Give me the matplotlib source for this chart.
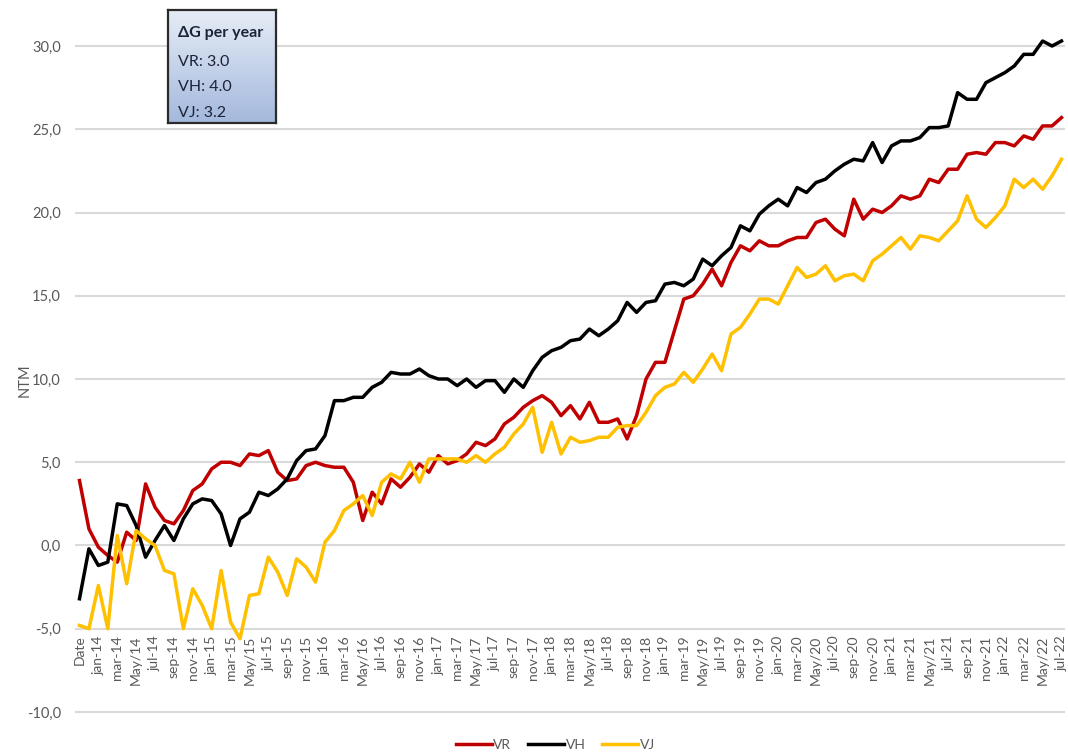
import numpy as np
import matplotlib
matplotlib.use("Agg")
import matplotlib.pyplot as plt

plt.rcParams['font.family'] = ['Lato', 'DejaVu Sans']

# monthly values, first point is the "Date" row, then dec-13 .. jul-22
vr = [3.9, 1.0, -0.1, -0.6, -1.0, 0.8, 0.3, 3.7, 2.3, 1.5, 1.3, 2.1, 3.3, 3.7, 4.6, 5.0,
      5.0, 4.8, 5.5, 5.4, 5.7, 4.4, 3.9, 4.0, 4.8, 5.0, 4.8, 4.7, 4.7, 3.8, 1.5, 3.2,
      2.5, 4.0, 3.5, 4.1, 4.9, 4.4, 5.4, 4.9, 5.1, 5.5, 6.2, 6.0, 6.4, 7.3, 7.7, 8.3,
      8.7, 9.0, 8.6, 7.8, 8.4, 7.6, 8.6, 7.4, 7.4, 7.6, 6.4, 7.8, 10.0, 11.0, 11.0, 12.9,
      14.8, 15.0, 15.7, 16.6, 15.6, 17.0, 18.0, 17.7, 18.3, 18.0, 18.0, 18.3, 18.5, 18.5,
      19.4, 19.6, 19.0, 18.6, 20.8, 19.6, 20.2, 20.0, 20.4, 21.0, 20.8, 21.0, 22.0, 21.8,
      22.6, 22.6, 23.5, 23.6, 23.5, 24.2, 24.2, 24.0, 24.6, 24.4, 25.2, 25.2, 25.7]
vh = [-3.2, -0.2, -1.2, -1.0, 2.5, 2.4, 1.2, -0.7, 0.3, 1.2, 0.3, 1.6, 2.5, 2.8, 2.7, 1.9,
      0.0, 1.6, 2.0, 3.2, 3.0, 3.4, 4.0, 5.1, 5.7, 5.8, 6.6, 8.7, 8.7, 8.9, 8.9, 9.5,
      9.8, 10.4, 10.3, 10.3, 10.6, 10.2, 10.0, 10.0, 9.6, 10.0, 9.5, 9.9, 9.9, 9.2, 10.0, 9.5,
      10.5, 11.3, 11.7, 11.9, 12.3, 12.4, 13.0, 12.6, 13.0, 13.5, 14.6, 14.0, 14.6, 14.7, 15.7, 15.8,
      15.6, 16.0, 17.2, 16.8, 17.4, 17.9, 19.2, 18.9, 19.9, 20.4, 20.8, 20.4, 21.5, 21.2,
      21.8, 22.0, 22.5, 22.9, 23.2, 23.1, 24.2, 23.0, 24.0, 24.3, 24.3, 24.5, 25.1, 25.1,
      25.2, 27.2, 26.8, 26.8, 27.8, 28.1, 28.4, 28.8, 29.5, 29.5, 30.3, 30.0, 30.3]
vj = [-4.8, -5.0, -2.4, -5.0, 0.6, -2.3, 0.9, 0.4, 0.0, -1.5, -1.7, -5.0, -2.6, -3.6, -5.0, -1.5,
      -4.6, -5.6, -3.0, -2.9, -0.7, -1.6, -3.0, -0.8, -1.3, -2.2, 0.2, 0.9, 2.1, 2.5, 3.0, 1.8,
      3.8, 4.3, 4.0, 5.0, 3.8, 5.2, 5.2, 5.2, 5.2, 5.0, 5.4, 5.0, 5.5, 5.9, 6.7, 7.3,
      8.3, 5.6, 7.4, 5.5, 6.5, 6.2, 6.3, 6.5, 6.5, 7.1, 7.2, 7.2, 8.0, 9.0, 9.5, 9.7,
      10.4, 9.8, 10.6, 11.5, 10.5, 12.7, 13.1, 13.9, 14.8, 14.8, 14.5, 15.6, 16.7, 16.1,
      16.3, 16.8, 15.9, 16.2, 16.3, 15.9, 17.1, 17.5, 18.0, 18.5, 17.8, 18.6, 18.5, 18.3,
      18.9, 19.5, 21.0, 19.6, 19.1, 19.7, 20.4, 22.0, 21.5, 22.0, 21.4, 22.2, 23.2]

# every second category is labelled
tick_labels = ['Date',
               'jan-14', 'mar-14', 'May/14', 'jul-14', 'sep-14', 'nov-14',
               'jan-15', 'mar-15', 'May/15', 'jul-15', 'sep-15', 'nov-15',
               'jan-16', 'mar-16', 'May/16', 'jul-16', 'sep-16', 'nov-16',
               'jan-17', 'mar-17', 'May/17', 'jul-17', 'sep-17', 'nov-17',
               'jan-18', 'mar-18', 'May/18', 'jul-18', 'sep-18', 'nov-18',
               'jan-19', 'mar-19', 'May/19', 'jul-19', 'sep-19', 'nov-19',
               'jan-20', 'mar-20', 'May/20', 'jul-20', 'sep-20', 'nov-20',
               'jan-21', 'mar-21', 'May/21', 'jul-21', 'sep-21', 'nov-21',
               'jan-22', 'mar-22', 'May/22', 'jul-22']
y_ticks = [-10, -5, 0, 5, 10, 15, 20, 25, 30]
box_lines = ['VR: 3.0', 'VH: 4.0', 'VJ: 3.2']

grey = '#595959'

fig = plt.figure(figsize=(10.68, 7.56), dpi=100)
ax = fig.add_axes([0.070, 0.0516, 0.927, 0.947])

x = np.arange(len(vr))
ax.plot(x, vr, color='#c00000', lw=2.5, label='VR', zorder=3)
ax.plot(x, vh, color='black', lw=2.5, label='VH', zorder=3)
ax.plot(x, vj, color='#ffc000', lw=2.5, label='VJ', zorder=3)

ax.set_xlim(-0.5, 104.35)
ax.set_ylim(-10.3, 32.7)
ax.set_yticks(y_ticks)
ax.set_yticklabels([f"{v:.1f}".replace('.', ',') for v in y_ticks])
ax.set_xticks(np.arange(0, len(vr), 2))
ax.set_xticklabels(tick_labels)

for v in y_ticks:
    ax.axhline(v, color='#d9d9d9', lw=1.5, zorder=1)

for s in ['top', 'right', 'left']:
    ax.spines[s].set_visible(False)
ax.spines['bottom'].set_position(('data', -5))
ax.spines['bottom'].set_visible(False)
ax.tick_params(axis='both', length=0, colors=grey)
ax.tick_params(axis='y', pad=10, labelsize=10.5)
ax.tick_params(axis='x', pad=5, labelsize=10, labelrotation=90)

fig.text(25 / 1068, 1 - 380 / 756, 'NTM', rotation=90, color=grey, fontsize=10.5,
         ha='center', va='center')

fig.legend(loc='lower center', bbox_to_anchor=(0.52, -0.01), ncol=3, frameon=False,
           fontsize=10, handlelength=2.6, handletextpad=0.1, columnspacing=1.2,
           labelcolor=grey)

# gradient text box
bx = fig.add_axes([168 / 1068, 1 - 123 / 756, 108 / 1068, 113 / 756])
grad = np.linspace(0, 1, 100).reshape(-1, 1)
cmap = matplotlib.colors.LinearSegmentedColormap.from_list('g', ['#e6ecf6', '#a4b9dd'])
bx.imshow(grad, aspect='auto', cmap=cmap, extent=[0, 1, 0, 1], origin='upper')
bx.set_xticks([])
bx.set_yticks([])
for s in bx.spines.values():
    s.set_color('#2b2b2b')
    s.set_linewidth(1.6)
txt_col = '#1c2238'
bx.text(0.09, 0.80, 'ΔG per year', fontsize=11.5, fontweight='bold', color=txt_col,
        transform=bx.transAxes, va='center')
for k, t in enumerate(box_lines):
    bx.text(0.09, 0.54 - k * 0.225, t, fontsize=11.5, color=txt_col,
            transform=bx.transAxes, va='center')

fig.savefig('out.png', dpi=100)
